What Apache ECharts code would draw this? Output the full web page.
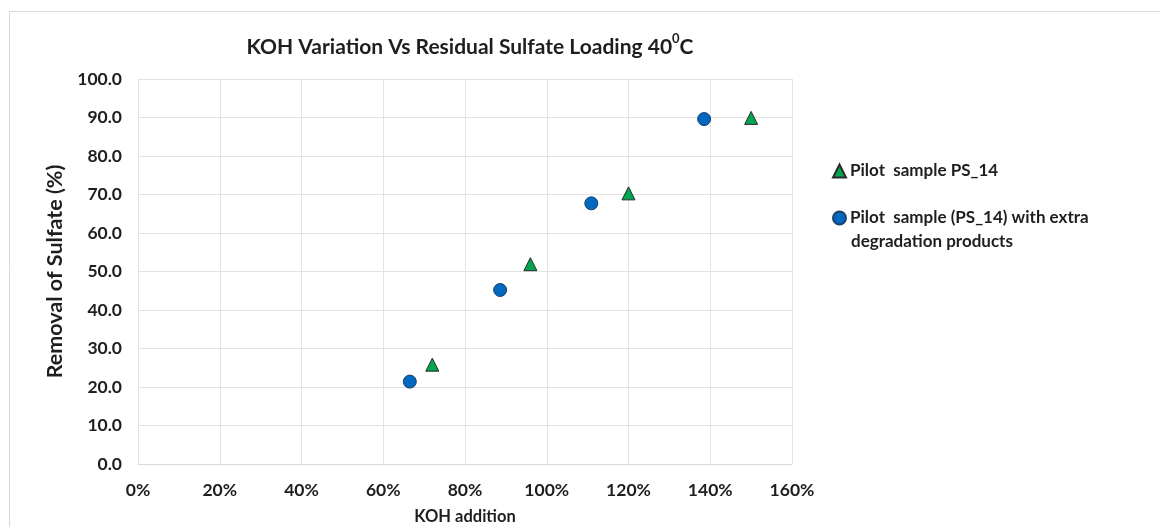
<!DOCTYPE html>
<html>
<head>
<meta charset="utf-8">
<script src="https://cdn.jsdelivr.net/npm/echarts@6/dist/echarts.min.js"></script>
<style>
  html, body { margin: 0; padding: 0; background: #fff; }
  #chart { width: 1160px; height: 527px; }
</style>
</head>
<body>
<div id="chart"></div>
<script>
// KOH 添加量 (fraction) 与硫酸盐去除率 (%)
var pilotKoh = [0.72, 0.96, 1.20, 1.50];
var pilotRemoval = [25.8, 51.9, 70.3, 89.9];
var extraKoh = [0.665, 0.886, 1.109, 1.385];
var extraRemoval = [21.4, 45.2, 67.7, 89.6];

var seriesNames = ['Pilot  sample PS_14', 'Pilot  sample (PS_14) with extra'];
var font = 'Lato, "Open Sans", sans-serif';
var ink = '#1e1e1e';

function pairs(xs, ys) {
  var out = [];
  for (var i = 0; i < xs.length; i++) out.push([xs[i], ys[i]]);
  return out;
}

var chart = echarts.init(document.getElementById('chart'));
var option = {
  backgroundColor: '#fff',
  textStyle: { fontFamily: font },
  graphic: [{
    type: 'rect',
    shape: { x: 9.5, y: 11.5, width: 1200, height: 600 },
    style: { fill: 'none', stroke: '#d9d9d9', lineWidth: 1 },
    silent: true
  }, {
    // 图例第二行
    type: 'text',
    left: 851,
    top: 233,
    style: { text: 'degradation products', font: 'bold 17px ' + font, fill: ink },
    silent: true
  }],
  title: {
    text: '{a|KOH Variation Vs Residual Sulfate Loading 40}{s|0}{a|C}',
    left: 465,
    textAlign: 'center',
    top: 27,
    textStyle: {
      rich: {
        a: { fontFamily: font, fontWeight: 700, fontSize: 21, color: ink, verticalAlign: 'bottom', lineHeight: 26 },
        s: { fontFamily: font, fontWeight: 700, fontSize: 13, color: ink, verticalAlign: 'top', lineHeight: 26, padding: [0, 0, 10, 0] }
      }
    }
  },
  legend: {
    orient: 'vertical',
    left: 827,
    top: 156,
    itemGap: 27,
    itemWidth: 13,
    itemHeight: 13,
    itemStyle: { opacity: 1 },
    data: seriesNames,
    textStyle: {
      fontFamily: font, fontWeight: 700, fontSize: 17, color: ink, lineHeight: 20, padding: [0, 0, 0, -1]
    }
  },
  grid: { left: 138, right: 368, top: 79, bottom: 63, outerBoundsMode: 'none' },
  xAxis: {
    type: 'value',
    min: 0,
    max: 1.6,
    interval: 0.2,
    name: 'KOH addition',
    nameLocation: 'middle',
    nameGap: 44,
    nameTextStyle: { fontFamily: font, fontWeight: 700, fontSize: 16.5, color: ink },
    axisLine: { show: true, lineStyle: { color: '#d9d9d9' } },
    axisTick: { show: false },
    axisLabel: {
      margin: 17,
      fontFamily: font, fontWeight: 700, fontSize: 17.5, color: ink,
      formatter: function (v) { return Math.round(v * 100) + '%'; }
    },
    splitLine: { show: true, lineStyle: { color: '#e3e3e3' } }
  },
  yAxis: {
    type: 'value',
    min: 0,
    max: 100,
    interval: 10,
    name: 'Removal of Sulfate (%)',
    nameLocation: 'middle',
    nameGap: 53,
    nameTextStyle: { fontFamily: font, fontWeight: 700, fontSize: 21.5, color: ink },
    axisLine: { show: false },
    axisTick: { show: false },
    axisLabel: {
      margin: 16,
      fontFamily: font, fontWeight: 700, fontSize: 17.5, color: ink,
      formatter: function (v) { return v.toFixed(1); }
    },
    splitLine: { show: true, lineStyle: { color: '#e3e3e3' } }
  },
  series: [{
    name: seriesNames[0],
    type: 'scatter',
    symbol: 'triangle',
    symbolSize: 13,
    itemStyle: { color: '#00A550', borderColor: '#2b2b2b', borderWidth: 1, opacity: 1 },
    data: pairs(pilotKoh, pilotRemoval)
  }, {
    name: seriesNames[1],
    type: 'scatter',
    symbol: 'circle',
    symbolSize: 13,
    itemStyle: { color: '#0068BE', borderColor: '#1f3f6e', borderWidth: 1, opacity: 1 },
    data: pairs(extraKoh, extraRemoval)
  }]
};
chart.setOption(option);
</script>
</body>
</html>
